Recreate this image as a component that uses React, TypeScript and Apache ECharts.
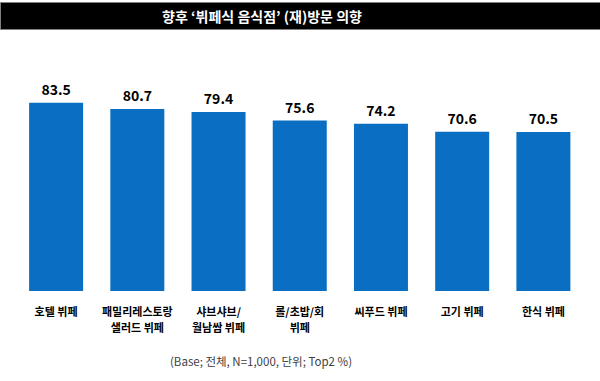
import React, { useEffect, useRef } from "react";
import * as echarts from "echarts";

const categories = ["호텔 뷔페", "패밀리레스토랑\n샐러드 뷔페", "샤브샤브/\n월남쌈 뷔페", "롤/초밥/회\n뷔페", "씨푸드 뷔페", "고기 뷔페", "한식 뷔페"];
const values = [83.5, 80.7, 79.4, 75.6, 74.2, 70.6, 70.5];
const titleText = "향후 ‘뷔페식 음식점’ (재)방문 의향";
const footerText = "(Base; 전체, N=1,000, 단위; Top2 %)";

export default function App() {
  const ref = useRef<HTMLDivElement>(null);
  useEffect(() => {
    if (!ref.current) return;
    const chart = echarts.init(ref.current, null, { renderer: "svg" });
    const font = "'Noto Sans CJK KR', 'Noto Sans', sans-serif";
    chart.setOption({
      animation: false,
      backgroundColor: "#ffffff",
      graphic: [
        { type: "rect", left: 0, top: 2, shape: { width: 600, height: 27 }, style: { fill: "#000000", stroke: "#7f7f7f", lineWidth: 1 } },
        { type: "text", x: 262, y: 15.5, style: { text: titleText, fill: "#ffffff", font: `bold 14px ${font}`, textAlign: "center", textVerticalAlign: "middle" } },
        { type: "text", x: 261, y: 361, style: { text: footerText, fill: "#404040", font: `11.5px ${font}`, textAlign: "center", textVerticalAlign: "middle" } },
      ],
      grid: { left: 15.5, right: 16, top: 65.5, bottom: 90, containLabel: false },
      xAxis: {
        type: "category",
        data: categories,
        axisLine: { show: false },
        axisTick: { show: false },
        axisLabel: { interval: 0, margin: 12, color: "#000000", fontSize: 11, fontWeight: "bold", fontFamily: font, lineHeight: 16 },
      },
      yAxis: { type: "value", min: 0, max: 100, show: false, splitLine: { show: false } },
      series: [
        {
          type: "bar",
          data: values,
          barWidth: "66.5%",
          itemStyle: { color: "#0A6FC2" },
          label: { show: true, position: "top", distance: 7, color: "#000000", fontSize: 14, fontWeight: "bold", fontFamily: font, formatter: (p: any) => p.value.toFixed(1) },
        },
      ],
    });
    return () => chart.dispose();
  }, []);
  return <div ref={ref} style={{ width: 600, height: 381, position: "absolute", left: 0, top: 0 }} />;
}
